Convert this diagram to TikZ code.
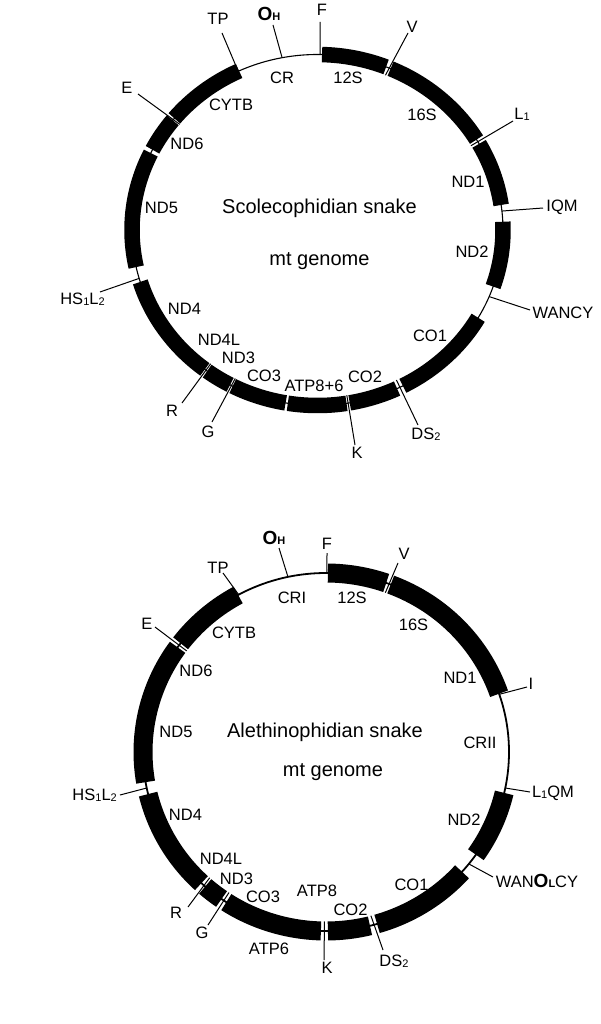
\documentclass[tikz,border=0pt]{standalone}
\usepackage{fontspec}
\setmainfont{Liberation Sans}
\newcommand\sbs[1]{\raisebox{-0.8pt}{\fontsize{11}{11}\selectfont #1}}
\newcommand\boldsub[2]{{\bfseries\fontsize{19}{19}\selectfont #1\fontsize{11}{11}\selectfont #2}}
\begin{document}
\begin{tikzpicture}[x=1pt,y=1pt,
  lbl/.style={inner sep=0pt,font=\fontsize{16.5}{18}\selectfont},
  ctr/.style={inner sep=0pt,anchor=base,font=\fontsize{20}{22}\selectfont},
  tickline/.style={line width=1pt},
  ringa/.style={line width=1.1pt},
  ringb/.style={line width=1.8pt},
  genea/.style={line width=15.5pt},
  geneb/.style={line width=19pt}]
\fill[white] (0,0) rectangle (600,-1024);
\useasboundingbox (0,0) rectangle (600,-1024);

% ================= circle 1 =================
\coordinate (C1) at (317.5,-230);
\draw[ringa] (C1) ellipse [x radius=185.5pt, y radius=175.5pt];
\foreach \s/\e in {88.6/68.3, 66.8/31.0, 29.4/8.2, 2.7/-18.8, -30/-62.6,
  -64.6/-80.0, -81.0/-99.2, -99.9/-117.2, -118.1/-126.5, -127.4/-162.8,
  -167.8/-206.0, -207.2/-218.7, -219.5/-245}
  \draw[genea] ({317.5+185.5*cos(\s)},{-230+175.5*sin(\s)})
     arc[start angle=\s, end angle=\e, x radius=185.5pt, y radius=175.5pt];
\foreach \n/\a/\rx/\ry/\ex/\ey in {F/89.2/185.5/175.5/320/22, OH/101/185.5/175.5/273/25,
  TP/115.3/185.5/175.5/222/33, E/140.9/177.5/167.5/138/94, V/67.5/177.5/167.5/408/33,
  L/30.2/177.5/167.5/513/121, IQM/6.2/185.5/175.5/543/208, WANCY/-22.3/185.5/175.5/530/310,
  DS/-63.6/177.5/167.5/418/425, K/-80.5/177.5/167.5/355/445, G/-117.6/177.5/167.5/212/422,
  R/-127/177.5/167.5/182/403, HS/-164/185.5/175.5/100/292}{
  \coordinate (a\n s) at ({317.5+\rx*cos(\a)},{-230+\ry*sin(\a)});
  \coordinate (a\n e) at (\ex,-\ey);
  \draw[tickline] (a\n s) -- (a\n e);
}
% outer labels
\node[lbl] (aF) at (322,-10) {F};
\node[lbl] (aOH) at (269,-14) {\boldsub{O}{H}};
\node[lbl] (aTP) at (218,-19) {TP};
\node[lbl] (aE) at (127,-88) {E};
\node[lbl] (aV) at (412,-27) {V};
\node[lbl] (aL) at (522,-114) {L\sbs{1}};
\node[lbl] (aIQM) at (562,-207) {IQM};
\node[lbl] (aWANCY) at (563,-313) {WANCY};
\node[lbl] (aDS) at (426,-434) {DS\sbs{2}};
\node[lbl] (aK) at (357,-453) {K};
\node[lbl] (aG) at (208,-432) {G};
\node[lbl] (aR) at (172,-411) {R};
\node[lbl] (aHS) at (82.5,-299) {HS\sbs{1}L\sbs{2}};
% inner labels
\node[lbl] (aCR) at (282,-77.5) {CR};
\node[lbl] (a12S) at (348,-77.5) {12S};
\node[lbl] (aCYTB) at (231,-105) {CYTB};
\node[lbl] (aND6) at (187,-144) {ND6};
\node[lbl] (a16S) at (422,-115) {16S};
\node[lbl] (aND1) at (468,-182) {ND1};
\node[lbl] (aND2) at (472,-252) {ND2};
\node[lbl] (aND5) at (161.5,-208) {ND5};
\node[lbl] (aND4) at (184.5,-308.5) {ND4};
\node[lbl] (aND4L) at (219,-340) {ND4L};
\node[lbl] (aND3) at (238.5,-358) {ND3};
\node[lbl] (aCO3) at (264,-376) {CO3};
\node[lbl] (aATP) at (314,-386) {ATP8+6};
\node[lbl] (aCO2) at (365,-377) {CO2};
\node[lbl] (aCO1) at (430,-335.5) {CO1};
\node[ctr] (aT1) at (319.5,-213.3) {Scolecophidian snake};
\node[ctr] (aT2) at (319.5,-265) {mt genome};

% ================= circle 2 =================
\coordinate (C2) at (326,-752);
\draw[ringb] (C2) ellipse [x radius=183pt, y radius=179pt];
\foreach \s/\e in {89.4/70.8, 69.3/19, -13.2/-35, -42/-73.8, -76.1/-89.4,
  -91.6/-123.0, -124.8/-131.3, -132.9/-166.4, -170.3/-215.8, -217.4/-241.3}
  \draw[geneb] ({326+183*cos(\s)},{-752+179*sin(\s)})
     arc[start angle=\s, end angle=\e, x radius=183pt, y radius=179pt];
\foreach \n/\a/\rx/\ry/\ex/\ey in {F/89.7/183/179/327/553, OH/102/183/179/279/548,
  TP/118.5/183/179/223/573, E/143.4/173.5/169.5/155/627, V/70/173.5/169.5/398/563,
  I/18.8/183/179/527/687, LQM/-11.6/183/179/530/792, WAN/-38.7/183/179/493/877,
  DS/-75/173.5/169.5/383/950, K/-90.5/173.5/169.5/324/960, G/-124/173.5/169.5/208/925,
  R/-132.1/173.5/169.5/188/907, HS/-168.4/183/179/120/795}{
  \coordinate (b\n s) at ({326+\rx*cos(\a)},{-752+\ry*sin(\a)});
  \coordinate (b\n e) at (\ex,-\ey);
  \draw[tickline] (b\n s) -- (b\n e);
}
% outer labels
\node[lbl] (bF) at (327,-544) {F};
\node[lbl] (bOH) at (274,-538) {\boldsub{O}{H}};
\node[lbl] (bTP) at (218,-567.5) {TP};
\node[lbl] (bE) at (147,-624) {E};
\node[lbl] (bV) at (404,-554) {V};
\node[lbl] (bI) at (531,-684) {I};
\node[lbl] (bLQM) at (553,-793) {L\sbs{1}QM};
\node[lbl] (bWAN) at (537,-881) {WAN\boldsub{O}{L}CY};
\node[lbl] (bDS) at (394,-961) {DS\sbs{2}};
\node[lbl] (bK) at (327,-968) {K};
\node[lbl] (bG) at (202,-932.5) {G};
\node[lbl] (bR) at (176,-912.5) {R};
\node[lbl,anchor=east] (bHS) at (117,-795) {HS\sbs{1}L\sbs{2}};
% inner labels
\node[lbl] (bCRI) at (292,-597.5) {CRI};
\node[lbl] (b12S) at (352,-597.5) {12S};
\node[lbl] (bCYTB) at (234,-633) {CYTB};
\node[lbl] (bND6) at (196,-671) {ND6};
\node[lbl] (b16S) at (413.5,-625) {16S};
\node[lbl] (bND1) at (460,-677.5) {ND1};
\node[lbl] (bCRII) at (480,-743) {CRII};
\node[lbl] (bND2) at (464,-820) {ND2};
\node[lbl] (bCO1) at (411.5,-884.5) {CO1};
\node[lbl] (bCO2) at (350.5,-910) {CO2};
\node[lbl] (bATP8) at (317,-891) {ATP8};
\node[lbl] (bATP6) at (269,-948.5) {ATP6};
\node[lbl] (bCO3) at (263,-896.5) {CO3};
\node[lbl] (bND3) at (236.5,-879) {ND3};
\node[lbl] (bND4L) at (221,-859) {ND4L};
\node[lbl] (bND4) at (185.5,-815) {ND4};
\node[lbl] (bND5) at (176,-732) {ND5};
\node[ctr] (bT1) at (325,-737.3) {Alethinophidian snake};
\node[ctr] (bT2) at (333,-776) {mt genome};
\end{tikzpicture}
\end{document}
